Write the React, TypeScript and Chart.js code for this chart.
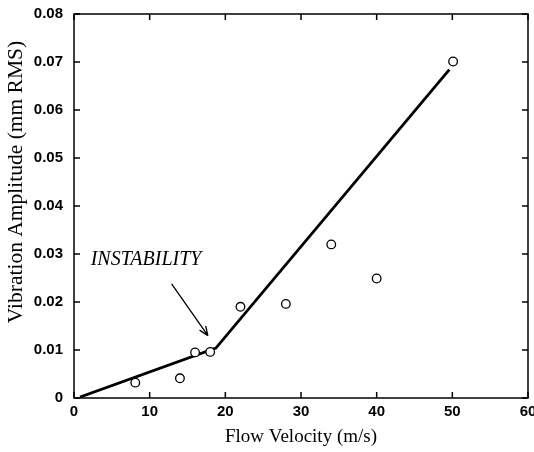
import { useEffect, useRef } from 'react';
import { Chart, registerables } from 'chart.js';

Chart.register(...registerables);

// ---- data ----
const measuredVelocity = [8.1, 14.0, 16.0, 18.0, 22.0, 28.0, 34.0, 40.0, 50.1];
const measuredAmplitude = [0.0032, 0.0041, 0.0095, 0.0096, 0.019, 0.0196, 0.032, 0.0249, 0.0701];
const trendVelocity = [0.8, 18.75, 49.6];
const trendAmplitude = [0.0002, 0.0104, 0.0684];

const annotationText = 'INSTABILITY';
const annotationTextAt = [2.2, 0.0278];
const arrowFrom = [12.9, 0.0238];
const arrowTo = [17.7, 0.013];

const xTitle = 'Flow Velocity (m/s)';
const yTitle = 'Vibration Amplitude (mm RMS)';
const xRange = [0, 60, 10];
const yRange = [0, 0.08, 0.01];

const frame = {
  id: 'frame',
  afterDraw(chart: any) {
    const { ctx, chartArea: a, scales } = chart;
    const xs = scales.x;
    const ys = scales.y;
    ctx.save();
    ctx.strokeStyle = '#000';
    ctx.lineWidth = 1.5;
    ctx.strokeRect(a.left, a.top, a.right - a.left, a.bottom - a.top);
    const tl = 6;
    ctx.beginPath();
    xs.ticks.forEach((t: any) => {
      const px = xs.getPixelForValue(t.value);
      ctx.moveTo(px, a.bottom);
      ctx.lineTo(px, a.bottom - tl);
      ctx.moveTo(px, a.top);
      ctx.lineTo(px, a.top + tl);
    });
    ys.ticks.forEach((t: any) => {
      const py = ys.getPixelForValue(t.value);
      ctx.moveTo(a.left, py);
      ctx.lineTo(a.left + tl, py);
      ctx.moveTo(a.right, py);
      ctx.lineTo(a.right - tl, py);
    });
    ctx.stroke();

    // annotation
    ctx.fillStyle = '#000';
    ctx.font = 'italic 20px "Liberation Serif"';
    ctx.textAlign = 'left';
    ctx.textBaseline = 'alphabetic';
    ctx.fillText(
      annotationText,
      xs.getPixelForValue(annotationTextAt[0]),
      ys.getPixelForValue(annotationTextAt[1])
    );
    const x1 = xs.getPixelForValue(arrowFrom[0]);
    const y1 = ys.getPixelForValue(arrowFrom[1]);
    const x2 = xs.getPixelForValue(arrowTo[0]);
    const y2 = ys.getPixelForValue(arrowTo[1]);
    ctx.lineWidth = 1.3;
    ctx.beginPath();
    ctx.moveTo(x1, y1);
    ctx.lineTo(x2, y2);
    const ang = Math.atan2(y2 - y1, x2 - x1);
    const hl = 10;
    ctx.moveTo(x2, y2);
    ctx.lineTo(x2 - hl * Math.cos(ang - 0.38), y2 - hl * Math.sin(ang - 0.38));
    ctx.moveTo(x2, y2);
    ctx.lineTo(x2 - hl * Math.cos(ang + 0.38), y2 - hl * Math.sin(ang + 0.38));
    ctx.stroke();

    // y axis title
    ctx.translate(16.5, (a.top + a.bottom) / 2 - 24);
    ctx.rotate(-Math.PI / 2);
    ctx.font = '21.5px "Liberation Serif"';
    ctx.textAlign = 'center';
    ctx.textBaseline = 'middle';
    ctx.fillText(yTitle, 0, 0);
    ctx.restore();
  },
};

export default function App() {
  const ref = useRef<HTMLCanvasElement | null>(null);
  useEffect(() => {
    document.body.style.margin = '0';
    const canvas = ref.current;
    if (!canvas) return;
    const tickFont = { family: '"Liberation Sans", Arial, sans-serif', size: 15, weight: 'bold' as const };
    const chart = new Chart(canvas, {
      type: 'scatter',
      data: {
        datasets: [
          {
            label: 'measured',
            data: measuredVelocity.map((v, i) => ({ x: v, y: measuredAmplitude[i] })),
            showLine: false,
            pointRadius: 4.3,
            pointBorderWidth: 1.3,
            pointBorderColor: '#000',
            pointBackgroundColor: '#fff',
            order: 0,
          },
          {
            label: 'trend',
            type: 'line',
            data: trendVelocity.map((v, i) => ({ x: v, y: trendAmplitude[i] })),
            borderColor: '#000',
            borderWidth: 2.8,
            pointRadius: 0,
            tension: 0,
            fill: false,
            order: 1,
          },
        ],
      },
      options: {
        responsive: false,
        animation: false,
        devicePixelRatio: 1,
        layout: { padding: { top: 14, right: 6, left: 0, bottom: 0 } },
        plugins: { legend: { display: false }, tooltip: { enabled: false } },
        scales: {
          x: {
            type: 'linear',
            min: xRange[0],
            max: xRange[1],
            ticks: { stepSize: xRange[2], font: tickFont, color: '#000', padding: 5, maxRotation: 0 },
            grid: { display: false, drawTicks: false },
            border: { display: false },
            title: {
              display: true,
              text: xTitle,
              color: '#000',
              font: { family: '"Liberation Serif", serif', size: 19 },
              padding: { top: 0, bottom: 4 },
            },
            afterFit: (s: any) => {
              s.height = 54;
              s.paddingLeft = 0;
              s.paddingRight = 0;
            },
          },
          y: {
            type: 'linear',
            min: yRange[0],
            max: yRange[1],
            ticks: {
              stepSize: yRange[2],
              font: tickFont,
              color: '#000',
              padding: 11,
              callback: (v: any) => (Number(v) === 0 ? '0' : Number(v).toFixed(2)),
            },
            grid: { display: false, drawTicks: false },
            border: { display: false },
            afterFit: (s: any) => {
              s.width = 74;
              s.paddingTop = 0;
              s.paddingBottom = 0;
            },
          },
        },
      },
      plugins: [frame],
    });
    return () => chart.destroy();
  }, []);
  return (
    <div style={{ width: 534, height: 452 }}>
      <canvas ref={ref} width={534} height={452} />
    </div>
  );
}
